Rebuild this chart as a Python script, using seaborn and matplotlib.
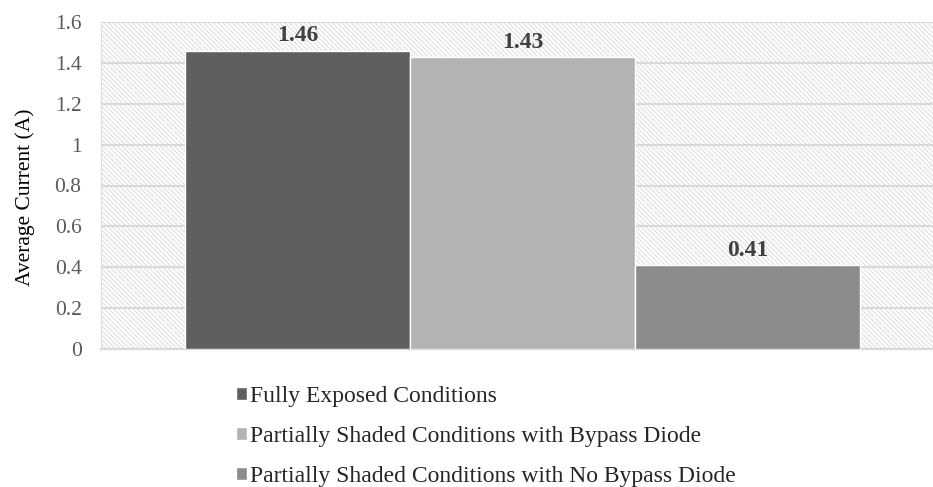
import seaborn as sns
import numpy as np
import pandas as pd
import matplotlib.pyplot as plt
from matplotlib.patches import Rectangle

conditions = ["Fully Exposed Conditions",
              "Partially Shaded Conditions with Bypass Diode",
              "Partially Shaded Conditions with No Bypass Diode"]
currents = [1.46, 1.43, 0.41]
colors = ["#5f5f5f", "#b3b3b3", "#8c8c8c"]
yticks = [0, 0.2, 0.4, 0.6, 0.8, 1, 1.2, 1.4, 1.6]
ytick_labels = ["0", "0.2", "0.4", "0.6", "0.8", "1", "1.2", "1.4", "1.6"]

df = pd.DataFrame({"group": ["all"] * 3, "condition": conditions, "current": currents})

sns.set_style("white")
plt.rcParams['font.family'] = ['Liberation Serif', 'DejaVu Serif']
plt.rcParams['hatch.linewidth'] = 0.9

fig = plt.figure(figsize=(9.33, 4.87), dpi=100)
ax = fig.add_axes([101 / 933, 1 - 349 / 487, 1 - 101 / 933, (349 - 22) / 487])

# hatched plot area background
bg = Rectangle((0, 0), 1, 1, transform=ax.transAxes, facecolor="white",
               edgecolor="#e2e2e2", hatch="\\" * 7, linewidth=0, zorder=0.1)
ax.add_patch(bg)

sns.barplot(data=df, x="group", y="current", hue="condition", palette=colors,
            width=0.8, saturation=1, ax=ax, zorder=3, legend=True)

for cont in ax.containers:
    ax.bar_label(cont, fmt="%.2f", padding=3, fontsize=17, fontweight="bold", color="#404040")

ax.set_xlim(-0.4995, 0.4865)
ax.set_ylim(0, 1.6)
ax.set_yticks(yticks)
ax.set_yticklabels(ytick_labels, fontsize=15.5, color="#595959")
ax.tick_params(axis="y", length=0, pad=14)
ax.set_xticks([])
ax.set_xlabel("")
ax.set_ylabel("Average Current (A)", fontsize=15.5, color="black")
ax.yaxis.set_label_coords(-0.079, 0.465)
ax.yaxis.grid(True, color="#d9d9d9", linewidth=1.5)
ax.set_axisbelow(True)
for s in ["top", "right"]:
    ax.spines[s].set_visible(False)
ax.spines["left"].set_color("#dcdcdc")
ax.spines["bottom"].set_color("#d9d9d9")
ax.spines["bottom"].set_linewidth(1.5)

handles, labels = ax.get_legend_handles_labels()
ax.get_legend().remove()
fig.legend(handles, labels, loc="upper left", bbox_to_anchor=(236 / 933, 1 - 386 / 487),
           frameon=False, fontsize=17, handlelength=0.45, handleheight=0.45,
           handletextpad=0.15, labelspacing=0.8, borderpad=0, borderaxespad=0)

fig.savefig("out.png", dpi=100)
